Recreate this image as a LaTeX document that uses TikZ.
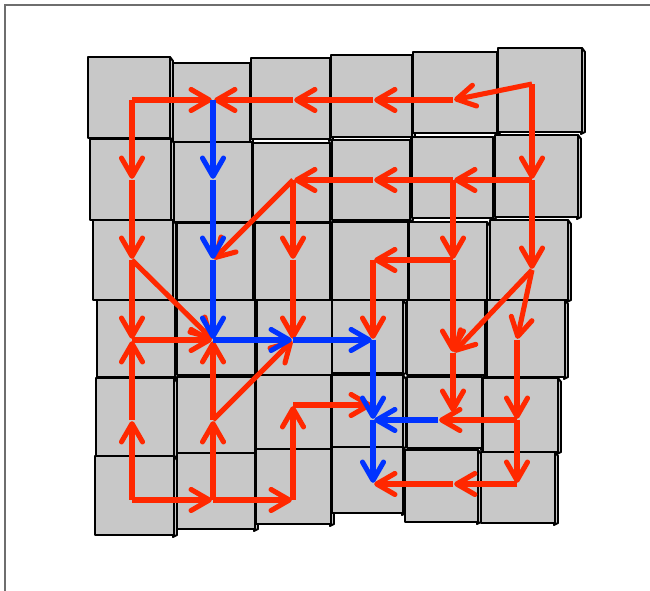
\documentclass[tikz,border=0pt]{standalone}
\usepackage{tikz}
\usetikzlibrary{arrows.meta}
\definecolor{cellgray}{RGB}{200,200,200}
\definecolor{pathred}{RGB}{255,40,0}
\definecolor{pathblue}{RGB}{0,51,255}
\definecolor{framegray}{RGB}{110,110,110}
\tikzset{
  figcell/.style={draw=black, fill=cellgray, line width=0.7pt, line join=round},
  figarrow/.style={-{Straight Barb[length=6.5pt, width=7.5pt, round]}, line width=1.8pt, shorten >=0.4pt},
  figred/.style={figarrow, draw=pathred},
  figblue/.style={figarrow, draw=pathblue},
  figframe/.style={draw=framegray, line width=0.6pt},
}

\begin{document}
\begin{tikzpicture}[x=0.125mm, y=-0.125mm]
  \useasboundingbox (0,0) rectangle (650,591);
  \draw[figframe] (5,591) -- (5,5) -- (650,5);
  % cells (left, top, right, bottom)
  \foreach \l/\t/\r/\b in {
      88/57/170/138, 173/63/250/142, 251/58/330/139, 331/55/412/137, 413/52/497/133, 498/48/582/132,
      90/139/171/220, 174/142/252/222, 253/143/330/222, 332/140/410/220, 412/137/493/218, 495/135/578/217,
      93/220/173/300, 177/223/253/300, 255/223/330/300, 332/222/408/300, 409/222/487/300, 490/220/568/300,
      97/300/175/377, 177/300/255/375, 257/300/332/375, 332/300/403/373, 407/300/485/375, 487/300/565/377,
      96/378/174/456, 177/377/255/453, 256/375/331/449, 332/375/403/447, 407/377/482/448, 483/378/558/452,
      95/456/174/535, 177/453/255/529, 256/449/331/524, 332/447/403/513, 405/450/478/522, 481/452/555/523} {
    \draw[figcell] (\r,\t) -- ({\r+3},{\t+4}) -- ({\r+3},\b) -- ({\r-1},{\b+2}) -- cycle;
    \draw[figcell] (\l,\t) rectangle (\r,\b);
  }
  % path points
  \coordinate (a1) at (132,100); \coordinate (b1) at (213,100); \coordinate (c1) at (293,100);
  \coordinate (d1) at (373,100); \coordinate (e1) at (453,100); \coordinate (f1) at (532,84);
  \coordinate (a2) at (132,180); \coordinate (b2) at (213,180); \coordinate (c2) at (293,180);
  \coordinate (d2) at (373,180); \coordinate (e2) at (453,180); \coordinate (f2) at (532,180);
  \coordinate (a3) at (132,260); \coordinate (b3) at (213,260); \coordinate (c3) at (293,260);
  \coordinate (d3) at (373,260); \coordinate (e3) at (453,260); \coordinate (f3) at (532,270);
  \coordinate (a4) at (132,340); \coordinate (b4) at (213,340); \coordinate (c4) at (293,340);
  \coordinate (d4) at (373,340); \coordinate (e4) at (453,353); \coordinate (f4) at (517,340);
  \coordinate (a5) at (132,420); \coordinate (b5) at (213,420); \coordinate (c5) at (293,405);
  \coordinate (d5) at (373,420); \coordinate (e5) at (438,420); \coordinate (e5up) at (453,413);
  \coordinate (f5) at (517,420);
  \coordinate (a6) at (132,500); \coordinate (b6) at (213,500); \coordinate (c6) at (293,500);
  \coordinate (d6) at (373,484); \coordinate (e6) at (453,484); \coordinate (f6) at (517,484);
  % red paths
  \draw[figred] (f1) -- (e1);
  \draw[figred] (e1) -- (d1);
  \draw[figred] (d1) -- (c1);
  \draw[figred] (c1) -- (b1);
  \draw[figred] (a1) -- (b1);
  \draw[figred] (a1) -- (a2);
  \draw[figred] (f1) -- (f2);
  \draw[figred] (f2) -- (e2);
  \draw[figred] (e2) -- (d2);
  \draw[figred] (d2) -- (c2);
  \draw[figred] (c2) -- (b3);
  \draw[figred] (c2) -- (c3);
  \draw[figred] (e2) -- (e3);
  \draw[figred] (f2) -- (f3);
  \draw[figred] (a2) -- (a3);
  \draw[figred] (a3) -- (a4);
  \draw[figred] (a3) -- (b4);
  \draw[figred] (c3) -- (c4);
  \draw[figred] (e3) -- (d3);
  \draw[figred] (d3) -- (d4);
  \draw[figred] (e3) -- (e4);
  \draw[figred] (f3) -- (e4);
  \draw[figred] (f3) -- (f4);
  \draw[figred] (a5) -- (a4);
  \draw[figred] (a4) -- (b4);
  \draw[figred] (b5) -- (b4);
  \draw[figred] (b5) -- (c4);
  \draw[figred] (e4) -- (e5up);
  \draw[figred] (f4) -- (f5);
  \draw[figred] (c5) -- (c5 -| d5);
  \draw[figred] (f5) -- (e5);
  \draw[figred] (f5) -- (f6);
  \draw[figred] (f6) -- (e6);
  \draw[figred] (e6) -- (d6);
  \draw[figred] (a6) -- (a5);
  \draw[figred] (a6) -- (b6);
  \draw[figred] (b6) -- (b5);
  \draw[figred] (b6) -- (c6);
  \draw[figred] (c6) -- (c5);
  % blue path
  \draw[figblue] (b1) -- (b2);
  \draw[figblue] (b2) -- (b3);
  \draw[figblue] (b3) -- (b4);
  \draw[figblue] (b4) -- (c4);
  \draw[figblue] (c4) -- (d4);
  \draw[figblue] (d4) -- (d5);
  \draw[figblue] (e5) -- (d5);
  \draw[figblue] (d5) -- (d6);
\end{tikzpicture}
\end{document}
